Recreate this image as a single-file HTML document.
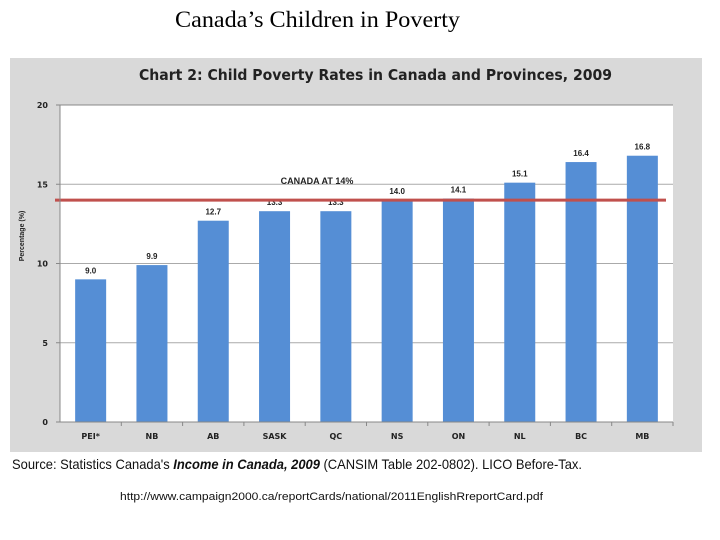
<!DOCTYPE html>
<html><head><meta charset="utf-8"><style>
body{margin:0;width:720px;height:540px;background:#fff;overflow:hidden}
svg{display:block}
</style></head><body>
<svg width="720" height="540">
<text x="175" y="27" textLength="285" lengthAdjust="spacingAndGlyphs" font-family="Liberation Serif, serif" font-size="23" fill="#000">Canada’s Children in Poverty</text>
<rect x="10" y="58" width="692" height="394" fill="#d9d9d9"/>
<text x="139" y="80" textLength="473" lengthAdjust="spacingAndGlyphs" font-family="DejaVu Sans, sans-serif" font-weight="bold" font-size="15" fill="#222">Chart 2: Child Poverty Rates in Canada and Provinces, 2009</text>
<rect x="60" y="105" width="613" height="317" fill="#fff"/>
<g id="grid"></g>
<g id="bars"></g>
<g id="axes"></g>
<text transform="translate(24,236) rotate(-90)" text-anchor="middle" font-family="Liberation Sans, sans-serif" font-size="7" font-weight="bold" fill="#222">Percentage (%)</text>
<text x="12" y="469" textLength="570" lengthAdjust="spacingAndGlyphs" font-family="Liberation Sans, sans-serif" font-size="14" fill="#111">Source: Statistics Canada's <tspan font-weight="bold" font-style="italic">Income in Canada, 2009</tspan> (CANSIM Table 202-0802).  LICO Before-Tax.</text>
<text x="120" y="500" textLength="423" lengthAdjust="spacingAndGlyphs" font-family="Liberation Sans, sans-serif" font-size="11" fill="#111">http://www.campaign2000.ca/reportCards/national/2011EnglishRreportCard.pdf</text>
</svg>
<script>
const categories=["PEI*","NB","AB","SASK","QC","NS","ON","NL","BC","MB"];
const values=[9.0,9.9,12.7,13.3,13.3,14.0,14.1,15.1,16.4,16.8];
const valueLabels=["9.0","9.9","12.7","13.3","13.3","14.0","14.1","15.1","16.4","16.8"];
const yTicks=[0,5,10,15,20];
const canadaRate=[14];
const NS="http://www.w3.org/2000/svg";
const X0=60,X1=673,Y0=422,Y1=105,YMAX=20;
const step=(X1-X0)/categories.length;
function y(v){return Y0-(v/YMAX)*(Y0-Y1);}
function xc(i){return X0+step*(i+0.5);}
function mk(tag,attrs,parent,text){const e=document.createElementNS(NS,tag);for(const k in attrs)e.setAttribute(k,attrs[k]);if(text!==undefined)e.textContent=text;parent.appendChild(e);return e;}
const grid=document.getElementById('grid'),bars=document.getElementById('bars'),axes=document.getElementById('axes');
yTicks.forEach(t=>{
  if(t>0){const l=mk('line',{x1:X0,x2:X1,y1:y(t),y2:y(t),stroke:t===20?'#888':'#aaa','stroke-width':1},grid);
  
  }
  const tx=mk('text',{x:48,y:y(t)+3,'text-anchor':'end','font-family':'DejaVu Sans, sans-serif','font-size':8,'font-weight':'bold',fill:'#222'},axes,String(t));
  
  
  const tk=mk('line',{x1:X0-4,x2:X0,y1:y(t),y2:y(t),stroke:'#888'},axes);
  
  
});
const ya=mk('line',{x1:X0,x2:X0,y1:Y1,y2:Y0,stroke:'#888'},axes);


const xa=mk('line',{x1:X0,x2:X1,y1:Y0,y2:Y0,stroke:'#888'},axes);


const bw=31;
categories.forEach((c,i)=>{
  const r=mk('rect',{x:xc(i)-bw/2,y:y(values[i]),width:bw,height:Y0-y(values[i]),fill:'#558ed5'},bars);
  
  
  const lb=mk('text',{x:xc(i),y:y(values[i])-6,'text-anchor':'middle','font-family':'Liberation Sans, sans-serif','font-size':8,'font-weight':'bold',fill:'#222'},bars,valueLabels[i]);
  
  
  const cl=mk('text',{x:xc(i),y:Y0+17,'text-anchor':'middle','font-family':'DejaVu Sans, sans-serif','font-size':8,'font-weight':'bold',fill:'#222'},axes,c);
  
  
  const tk=mk('line',{x1:X0+step*(i+1),x2:X0+step*(i+1),y1:Y0,y2:Y0+4,stroke:'#888'},axes);
  
  
});
const rl=mk('line',{x1:55,x2:666,y1:y(canadaRate[0]),y2:y(canadaRate[0]),stroke:'#c0504d','stroke-width':3},bars);


const rt=mk('text',{x:317,y:y(canadaRate[0])-16,'text-anchor':'middle','font-family':'Liberation Sans, sans-serif','font-size':9,'font-weight':'bold',fill:'#222'},bars,'CANADA AT 14%');


</script>
</body></html>
